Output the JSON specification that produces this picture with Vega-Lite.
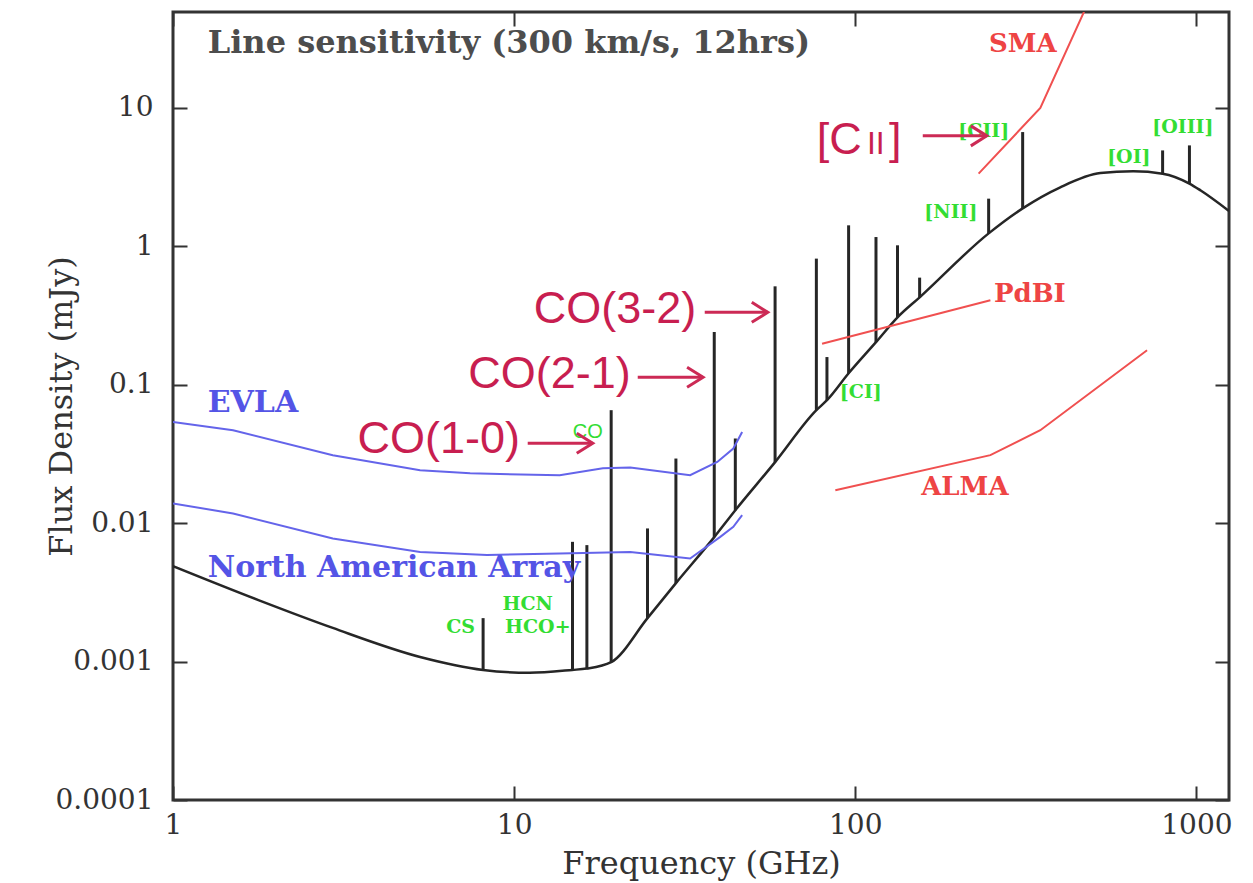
{
  "$schema": "https://vega.github.io/schema/vega-lite/v6.json",
  "width": 1056,
  "height": 788,
  "autosize": {"type": "none"},
  "padding": {"left": 173, "top": 12, "right": 24, "bottom": 83},
  "background": "white",
  "config": {
    "view": {"stroke": "#333333", "strokeWidth": 3},
    "axis": {
      "domain": false,
      "ticks": false,
      "grid": true,
      "zindex": 2,
      "gridColor": "#333333",
      "gridOpacity": 1,
      "gridWidth": 2,
      "labelFont": "DejaVu Serif",
      "labelFontSize": 28,
      "labelColor": "#333333",
      "titleFont": "DejaVu Serif",
      "titleFontSize": 32,
      "titleFontWeight": "normal",
      "titleColor": "#333333"
    }
  },
  "datasets": {
    "continuum": [
      {"f": 1.0, "v": 0.00489},
      {"f": 1.78, "v": 0.00278},
      {"f": 2.94, "v": 0.00175},
      {"f": 5.3, "v": 0.00108},
      {"f": 8.11, "v": 0.00087},
      {"f": 11.1, "v": 0.00083},
      {"f": 14.8, "v": 0.00087},
      {"f": 16.3, "v": 0.00089},
      {"f": 19.25, "v": 0.00099},
      {"f": 24.6, "v": 0.00206},
      {"f": 29.8, "v": 0.00369},
      {"f": 38.6, "v": 0.00793},
      {"f": 44.5, "v": 0.0124},
      {"f": 58.2, "v": 0.0276},
      {"f": 76.9, "v": 0.0655},
      {"f": 82.6, "v": 0.0773},
      {"f": 95.6, "v": 0.121},
      {"f": 115, "v": 0.203},
      {"f": 133, "v": 0.307},
      {"f": 154.4, "v": 0.428},
      {"f": 246, "v": 1.24},
      {"f": 309.5, "v": 1.88},
      {"f": 399, "v": 2.67},
      {"f": 523, "v": 3.38},
      {"f": 653, "v": 3.48},
      {"f": 796, "v": 3.35},
      {"f": 954, "v": 2.84},
      {"f": 1027, "v": 2.54},
      {"f": 1246, "v": 1.8}
    ],
    "lines": [
      {"line": "CS(1-0)", "f": 8.11, "base": 0.00087, "peak": 0.00206},
      {"line": "HCN/HCO+(1-0)", "f": 14.83, "base": 0.00087, "peak": 0.00733},
      {"line": "CS(2-1)", "f": 16.34, "base": 0.00088, "peak": 0.00694},
      {"line": "CO(1-0)", "f": 19.25, "base": 0.00099, "peak": 0.0655},
      {"line": "CS(3-2)", "f": 24.6, "base": 0.00206, "peak": 0.00916},
      {"line": "HCN(2-1)", "f": 29.8, "base": 0.00369, "peak": 0.0293},
      {"line": "CO(2-1)", "f": 38.6, "base": 0.00793, "peak": 0.2405},
      {"line": "HCN(3-2)", "f": 44.5, "base": 0.0124, "peak": 0.0409},
      {"line": "CO(3-2)", "f": 58.2, "base": 0.0276, "peak": 0.514},
      {"line": "CO(4-3)", "f": 76.9, "base": 0.0655, "peak": 0.815},
      {"line": "[CI](1-0)", "f": 82.6, "base": 0.0773, "peak": 0.1585},
      {"line": "CO(5-4)", "f": 95.6, "base": 0.121, "peak": 1.418},
      {"line": "CO(6-5)", "f": 115, "base": 0.203, "peak": 1.167},
      {"line": "CO(7-6)", "f": 133, "base": 0.307, "peak": 1.017},
      {"line": "CO(8-7)", "f": 154.4, "base": 0.428, "peak": 0.594},
      {"line": "[NII]", "f": 246, "base": 1.24, "peak": 2.21},
      {"line": "[CII]", "f": 309.5, "base": 1.88, "peak": 6.69},
      {"line": "[OI]", "f": 796, "base": 3.35, "peak": 4.93},
      {"line": "[OIII]", "f": 954, "base": 2.84, "peak": 5.36}
    ],
    "arrays": [
      {"series": "EVLA", "f": 1.0, "v": 0.0539},
      {"series": "EVLA", "f": 1.5, "v": 0.0469},
      {"series": "EVLA", "f": 2.94, "v": 0.031},
      {"series": "EVLA", "f": 5.3, "v": 0.0241},
      {"series": "EVLA", "f": 7.43, "v": 0.0229},
      {"series": "EVLA", "f": 13.6, "v": 0.0222},
      {"series": "EVLA", "f": 18.2, "v": 0.0249},
      {"series": "EVLA", "f": 21.9, "v": 0.0252},
      {"series": "EVLA", "f": 32.8, "v": 0.0222},
      {"series": "EVLA", "f": 39.4, "v": 0.0277},
      {"series": "EVLA", "f": 43.9, "v": 0.0346},
      {"series": "EVLA", "f": 46.6, "v": 0.0456},
      {"series": "North American Array", "f": 1.0, "v": 0.01388},
      {"series": "North American Array", "f": 1.5, "v": 0.01175},
      {"series": "North American Array", "f": 2.94, "v": 0.00775},
      {"series": "North American Array", "f": 5.3, "v": 0.0062},
      {"series": "North American Array", "f": 8.33, "v": 0.00588},
      {"series": "North American Array", "f": 13.6, "v": 0.00604},
      {"series": "North American Array", "f": 21.9, "v": 0.0062},
      {"series": "North American Array", "f": 32.8, "v": 0.00556},
      {"series": "North American Array", "f": 40.2, "v": 0.00796},
      {"series": "North American Array", "f": 43.9, "v": 0.0094},
      {"series": "North American Array", "f": 46.6, "v": 0.01142}
    ],
    "instruments": [
      {"series": "SMA", "f": 229.9, "v": 3.35},
      {"series": "SMA", "f": 348.7, "v": 10.0},
      {"series": "SMA", "f": 472.6, "v": 52},
      {"series": "PdBI", "f": 79.9, "v": 0.198},
      {"series": "PdBI", "f": 248.9, "v": 0.4075},
      {"series": "ALMA", "f": 87.4, "v": 0.0173},
      {"series": "ALMA", "f": 248.9, "v": 0.031},
      {"series": "ALMA", "f": 348.7, "v": 0.0469},
      {"series": "ALMA", "f": 716.7, "v": 0.1774}
    ],
    "heading": [
      {"text": "Line sensitivity (300 km/s, 12hrs)", "f": 1.264, "v": 29.2}
    ],
    "arrayLabels": [
      {"text": "EVLA", "f": 1.264, "v": 0.0741},
      {"text": "North American Array", "f": 1.264, "v": 0.00477}
    ],
    "instrumentLabels": [
      {"text": "SMA", "f": 309.8, "v": 28.8},
      {"text": "PdBI", "f": 324.9, "v": 0.4527},
      {"text": "ALMA", "f": 209.5, "v": 0.01822}
    ],
    "speciesLabels": [
      {"text": "CS", "f": 6.97, "v": 0.00177},
      {"text": "HCN", "f": 10.96, "v": 0.002595},
      {"text": "HCO+", "f": 11.73, "v": 0.00177},
      {"text": "[CI]", "f": 103.8, "v": 0.0893},
      {"text": "[NII]", "f": 190.6, "v": 1.777},
      {"text": "[CII]", "f": 238.1, "v": 6.82},
      {"text": "[OI]", "f": 633.7, "v": 4.43},
      {"text": "[OIII]", "f": 912.2, "v": 7.29}
    ],
    "coTag": [
      {"text": "CO", "f": 16.44, "v": 0.0452}
    ],
    "callouts": [
      {"text": "CO(1-0)", "f": 10.4, "v": 0.0406},
      {"text": "CO(2-1)", "f": 21.97, "v": 0.119},
      {"text": "CO(3-2)", "f": 34.2, "v": 0.3517}
    ],
    "ciiBracket": [
      {"text": "[C", "f": 104.5, "v": 6.07}
    ],
    "ciiNumeral": [
      {"text": "II", "f": 122.0, "v": 6.07}
    ],
    "ciiClose": [
      {"text": "]", "f": 136.6, "v": 6.07}
    ],
    "arrows": [
      {"f1": 10.96, "f2": 17.0, "v": 0.0378},
      {"f1": 23.03, "f2": 35.8, "v": 0.1132},
      {"f1": 36.2, "f2": 55.4, "v": 0.3336},
      {"f1": 157.7, "f2": 243, "v": 6.28}
    ]
  },
  "layer": [
    {
      "data": {"name": "continuum"},
      "mark": {"type": "line", "color": "#262626", "strokeWidth": 2.5, "interpolate": "monotone", "clip": true},
      "encoding": {
        "x": {
          "field": "f", "type": "quantitative",
          "scale": {"type": "log", "domain": [1, 1246], "nice": false},
          "axis": {"orient": "bottom", "values": [1, 10, 100, 1000], "format": "~g", "gridDash": [14, 760, 14], "labelPadding": 11, "labelFlush": false, "title": "Frequency (GHz)", "titleY": 48, "titleBaseline": "top"}
        },
        "y": {
          "field": "v", "type": "quantitative",
          "scale": {"type": "log", "domain": [0.0001, 49.3], "nice": false},
          "axis": {"orient": "left", "values": [0.0001, 0.001, 0.01, 0.1, 1, 10], "format": "~g", "gridDash": [14, 1028, 14], "labelPadding": 20, "title": "Flux Density (mJy)", "titleX": -95, "titleBaseline": "bottom"}
        }
      }
    },
    {
      "data": {"name": "lines"},
      "mark": {"type": "rule", "color": "#262626", "strokeWidth": 3, "clip": true},
      "encoding": {
        "x": {
          "field": "f", "type": "quantitative",
          "scale": {"type": "log", "domain": [1, 1246], "nice": false},
          "axis": {"orient": "bottom", "values": [2, 3, 4, 5, 6, 7, 8, 9, 20, 30, 40, 50, 60, 70, 80, 90, 200, 300, 400, 500, 600, 700, 800, 900], "labels": false, "gridDash": [7, 774, 7], "title": null}
        },
        "y": {
          "field": "base", "type": "quantitative",
          "scale": {"type": "log", "domain": [0.0001, 49.3], "nice": false},
          "axis": {"orient": "left", "values": [0.0002, 0.0003, 0.0004, 0.0005, 0.0006, 0.0007, 0.0008, 0.0009, 0.002, 0.003, 0.004, 0.005, 0.006, 0.007, 0.008, 0.009, 0.02, 0.03, 0.04, 0.05, 0.06, 0.07, 0.08, 0.09, 0.2, 0.3, 0.4, 0.5, 0.6, 0.7, 0.8, 0.9, 2, 3, 4, 5, 6, 7, 8, 9, 20, 30, 40], "labels": false, "gridDash": [7, 1042, 7], "title": null}
        },
        "y2": {"field": "peak"}
      }
    },
    {
      "data": {"name": "arrays"},
      "mark": {"type": "line", "color": "#6464ea", "strokeWidth": 2, "clip": true},
      "encoding": {
        "x": {
          "field": "f", "type": "quantitative",
          "scale": {"type": "log", "domain": [1, 1246], "nice": false},
          "axis": {"orient": "top", "values": [1, 10, 100, 1000], "labels": false, "gridDash": [14, 760, 14], "title": null}
        },
        "y": {
          "field": "v", "type": "quantitative",
          "scale": {"type": "log", "domain": [0.0001, 49.3], "nice": false},
          "axis": {"orient": "right", "values": [0.0001, 0.001, 0.01, 0.1, 1, 10], "labels": false, "gridDash": [14, 1028, 14], "title": null}
        },
        "detail": {"field": "series"}
      }
    },
    {
      "data": {"name": "instruments"},
      "mark": {"type": "line", "color": "#f05050", "strokeWidth": 2, "clip": true},
      "encoding": {
        "x": {
          "field": "f", "type": "quantitative",
          "scale": {"type": "log", "domain": [1, 1246], "nice": false},
          "axis": {"orient": "top", "values": [2, 3, 4, 5, 6, 7, 8, 9, 20, 30, 40, 50, 60, 70, 80, 90, 200, 300, 400, 500, 600, 700, 800, 900], "labels": false, "gridDash": [7, 774, 7], "title": null}
        },
        "y": {
          "field": "v", "type": "quantitative",
          "scale": {"type": "log", "domain": [0.0001, 49.3], "nice": false},
          "axis": {"orient": "right", "values": [0.0002, 0.0003, 0.0004, 0.0005, 0.0006, 0.0007, 0.0008, 0.0009, 0.002, 0.003, 0.004, 0.005, 0.006, 0.007, 0.008, 0.009, 0.02, 0.03, 0.04, 0.05, 0.06, 0.07, 0.08, 0.09, 0.2, 0.3, 0.4, 0.5, 0.6, 0.7, 0.8, 0.9, 2, 3, 4, 5, 6, 7, 8, 9, 20, 30, 40], "labels": false, "gridDash": [7, 1042, 7], "title": null}
        },
        "detail": {"field": "series"}
      }
    },
    {
      "data": {"name": "heading"},
      "mark": {"type": "text", "font": "DejaVu Serif", "fontSize": 32, "fontWeight": "bold", "color": "#4d4d4d", "align": "left", "baseline": "middle"},
      "encoding": {
        "x": {"field": "f", "type": "quantitative", "scale": {"type": "log", "domain": [1, 1246], "nice": false}, "axis": null},
        "y": {"field": "v", "type": "quantitative", "scale": {"type": "log", "domain": [0.0001, 49.3], "nice": false}, "axis": null},
        "text": {"field": "text"}
      }
    },
    {
      "data": {"name": "arrayLabels"},
      "mark": {"type": "text", "font": "DejaVu Serif", "fontSize": 30, "fontWeight": "bold", "color": "#5454e6", "align": "left", "baseline": "middle"},
      "encoding": {
        "x": {"field": "f", "type": "quantitative", "scale": {"type": "log", "domain": [1, 1246], "nice": false}, "axis": null},
        "y": {"field": "v", "type": "quantitative", "scale": {"type": "log", "domain": [0.0001, 49.3], "nice": false}, "axis": null},
        "text": {"field": "text"}
      }
    },
    {
      "data": {"name": "instrumentLabels"},
      "mark": {"type": "text", "font": "DejaVu Serif", "fontSize": 26, "fontWeight": "bold", "color": "#ee4444", "align": "center", "baseline": "middle"},
      "encoding": {
        "x": {"field": "f", "type": "quantitative", "scale": {"type": "log", "domain": [1, 1246], "nice": false}, "axis": null},
        "y": {"field": "v", "type": "quantitative", "scale": {"type": "log", "domain": [0.0001, 49.3], "nice": false}, "axis": null},
        "text": {"field": "text"}
      }
    },
    {
      "data": {"name": "speciesLabels"},
      "mark": {"type": "text", "font": "DejaVu Serif", "fontSize": 19, "fontWeight": "bold", "color": "#33dd33", "align": "center", "baseline": "middle"},
      "encoding": {
        "x": {"field": "f", "type": "quantitative", "scale": {"type": "log", "domain": [1, 1246], "nice": false}, "axis": null},
        "y": {"field": "v", "type": "quantitative", "scale": {"type": "log", "domain": [0.0001, 49.3], "nice": false}, "axis": null},
        "text": {"field": "text"}
      }
    },
    {
      "data": {"name": "coTag"},
      "mark": {"type": "text", "font": "Liberation Sans", "fontSize": 20, "color": "#33dd33", "align": "center", "baseline": "middle"},
      "encoding": {
        "x": {"field": "f", "type": "quantitative", "scale": {"type": "log", "domain": [1, 1246], "nice": false}, "axis": null},
        "y": {"field": "v", "type": "quantitative", "scale": {"type": "log", "domain": [0.0001, 49.3], "nice": false}, "axis": null},
        "text": {"field": "text"}
      }
    },
    {
      "data": {"name": "callouts"},
      "mark": {"type": "text", "font": "Liberation Sans", "fontSize": 45, "color": "#c81e50", "align": "right", "baseline": "middle"},
      "encoding": {
        "x": {"field": "f", "type": "quantitative", "scale": {"type": "log", "domain": [1, 1246], "nice": false}, "axis": null},
        "y": {"field": "v", "type": "quantitative", "scale": {"type": "log", "domain": [0.0001, 49.3], "nice": false}, "axis": null},
        "text": {"field": "text"}
      }
    },
    {
      "data": {"name": "ciiBracket"},
      "mark": {"type": "text", "font": "Liberation Sans", "fontSize": 45, "color": "#c81e50", "align": "right", "baseline": "alphabetic", "dy": 16},
      "encoding": {
        "x": {"field": "f", "type": "quantitative", "scale": {"type": "log", "domain": [1, 1246], "nice": false}, "axis": null},
        "y": {"field": "v", "type": "quantitative", "scale": {"type": "log", "domain": [0.0001, 49.3], "nice": false}, "axis": null},
        "text": {"field": "text"}
      }
    },
    {
      "data": {"name": "ciiNumeral"},
      "mark": {"type": "text", "font": "Liberation Sans", "fontSize": 32, "color": "#c81e50", "align": "right", "baseline": "alphabetic", "dy": 16},
      "encoding": {
        "x": {"field": "f", "type": "quantitative", "scale": {"type": "log", "domain": [1, 1246], "nice": false}, "axis": null},
        "y": {"field": "v", "type": "quantitative", "scale": {"type": "log", "domain": [0.0001, 49.3], "nice": false}, "axis": null},
        "text": {"field": "text"}
      }
    },
    {
      "data": {"name": "ciiClose"},
      "mark": {"type": "text", "font": "Liberation Sans", "fontSize": 45, "color": "#c81e50", "align": "right", "baseline": "alphabetic", "dy": 16},
      "encoding": {
        "x": {"field": "f", "type": "quantitative", "scale": {"type": "log", "domain": [1, 1246], "nice": false}, "axis": null},
        "y": {"field": "v", "type": "quantitative", "scale": {"type": "log", "domain": [0.0001, 49.3], "nice": false}, "axis": null},
        "text": {"field": "text"}
      }
    },
    {
      "data": {"name": "arrows"},
      "mark": {"type": "rule", "color": "#cc2a55", "strokeWidth": 3},
      "encoding": {
        "x": {"field": "f1", "type": "quantitative", "scale": {"type": "log", "domain": [1, 1246], "nice": false}, "axis": null},
        "x2": {"field": "f2"},
        "y": {"field": "v", "type": "quantitative", "scale": {"type": "log", "domain": [0.0001, 49.3], "nice": false}, "axis": null}
      }
    },
    {
      "data": {"name": "arrows"},
      "mark": {"type": "point", "shape": "M-1.6,-1L0,0L-1.6,1", "size": 400, "filled": false, "stroke": "#cc2a55", "strokeWidth": 3, "opacity": 1},
      "encoding": {
        "x": {"field": "f2", "type": "quantitative", "scale": {"type": "log", "domain": [1, 1246], "nice": false}, "axis": null},
        "y": {"field": "v", "type": "quantitative", "scale": {"type": "log", "domain": [0.0001, 49.3], "nice": false}, "axis": null}
      }
    }
  ],
  "resolve": {"axis": {"x": "independent", "y": "independent"}}
}
